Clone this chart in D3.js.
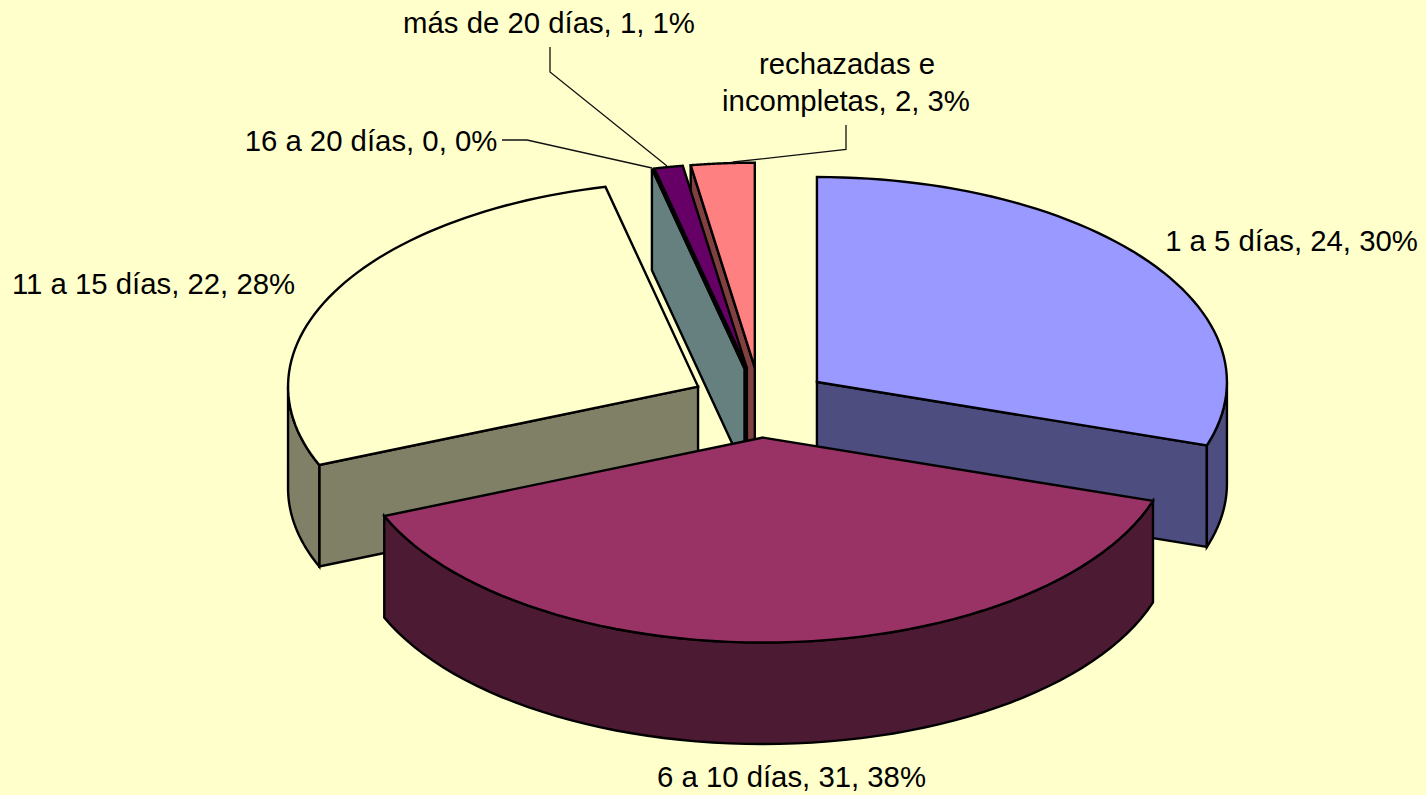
<!DOCTYPE html>
<html>
<head>
<meta charset="utf-8">
<script src="https://cdn.jsdelivr.net/npm/d3@7"></script>
<style>
  html, body { margin: 0; padding: 0; background: #ffffcc; overflow: hidden; }
  text { font-family: "Liberation Sans", Arial, sans-serif; font-size: 29.33px; fill: #000; }
</style>
</head>
<body>
<svg id="chart" width="1426" height="795"></svg>
<script>
const categories = ['1 a 5 días', '6 a 10 días', '11 a 15 días', '16 a 20 días', 'más de 20 días', 'rechazadas e incompletas'];
const counts = [24, 31, 22, 0, 1, 2];
const percents = [30, 38, 28, 0, 1, 3];
// the drawn sweep differs a little from the rounded counts in the labels
const sweepValues = [24, 31, 22.1, 0, 0.9, 2];
const topColors = ['#9999ff', '#993366', '#ffffcc', '#ccffff', '#660066', '#ff8080'];
const sideColors = ['#4d4d80', '#4d1a33', '#808066', '#668080', '#330033', '#804040'];

const width = 1426;
const height = 795;
const cx = 760.3;
const cy = 402.6;
const rx = 410;
const ry = 205;
const depth = 101.5;
const explode = 70;

const svg = d3.select('#chart');
svg.append('rect').attr('width', width).attr('height', height).attr('fill', '#ffffcc');

const arcs = d3.pie().sort(null).value(d => d)(sweepValues);
const line = d3.line();

// project a pie angle (clockwise from 12 o'clock) on the tilted ellipse
const onEllipse = (c, a, r = 1) => [c[0] + rx * r * Math.sin(a), c[1] - ry * r * Math.cos(a)];
const down = p => [p[0], p[1] + depth];

const rimPoints = (c, a0, a1) => d3.range(0, 61).map(i => onEllipse(c, a0 + (a1 - a0) * i / 60));

const drawSlice = i => {
  const d = arcs[i];
  const mid = (d.startAngle + d.endAngle) / 2;
  const apex = [cx + explode * Math.sin(mid), cy - explode / 2 * Math.cos(mid)];
  const g = svg.append('g').attr('stroke', '#000').attr('stroke-width', 2.4).attr('stroke-linejoin', 'miter');
  const start = onEllipse(apex, d.startAngle);
  const end = onEllipse(apex, d.endAngle);
  const side = sideColors[i];

  // cut face on the start edge shows only when it turns towards the viewer
  if (d.startAngle > Math.PI) {
    g.append('path').attr('fill', side)
      .attr('d', line([apex, start, down(start), down(apex)]) + 'Z');
  }
  // cut face on the end edge
  if (d.endAngle < Math.PI) {
    g.append('path').attr('fill', side)
      .attr('d', line([apex, end, down(end), down(apex)]) + 'Z');
  }
  // outer wall, front half of the ellipse only
  const w0 = Math.max(d.startAngle, Math.PI / 2);
  const w1 = Math.min(d.endAngle, Math.PI * 1.5);
  if (w1 > w0) {
    const rim = rimPoints(apex, w0, w1);
    g.append('path').attr('fill', side)
      .attr('d', line(rim.concat(rim.map(down).reverse())) + 'Z');
  }
  // top surface
  g.append('path').attr('fill', topColors[i])
    .attr('d', line([apex].concat(rimPoints(apex, d.startAngle, d.endAngle))) + 'Z');
};

// painter's order, back slices first and the big front slice last
[5, 4, 3, 2, 0, 1].forEach(drawSlice);

// leader lines
const leaderData = [
  [[502, 140], [527, 140], [652, 168]],
  [[550, 47], [550, 72], [667, 166]],
  [[846, 125], [846, 149.5], [733, 162]]
];
svg.append('g').selectAll('path').data(leaderData).enter().append('path')
  .attr('fill', 'none').attr('stroke', '#111').attr('stroke-width', 1.3)
  .attr('d', d => line(d));

// labels
const labelText = i => `${categories[i]}, ${counts[i]}, ${percents[i]}%`;
const labelSpots = [
  { i: 0, x: 1291.5, y: 251 },
  { i: 1, x: 791.5, y: 787 },
  { i: 2, x: 153.5, y: 294 },
  { i: 3, x: 371, y: 151 },
  { i: 4, x: 549, y: 33 }
];
svg.append('g').selectAll('text').data(labelSpots).enter().append('text')
  .attr('x', d => d.x).attr('y', d => d.y).attr('text-anchor', 'middle')
  .text(d => labelText(d.i));

svg.append('text').attr('x', 847).attr('y', 74).attr('text-anchor', 'middle').text('rechazadas e');
svg.append('text').attr('x', 846).attr('y', 110.5).attr('text-anchor', 'middle')
  .text(`incompletas, ${counts[5]}, ${percents[5]}%`);
</script>
</body>
</html>
